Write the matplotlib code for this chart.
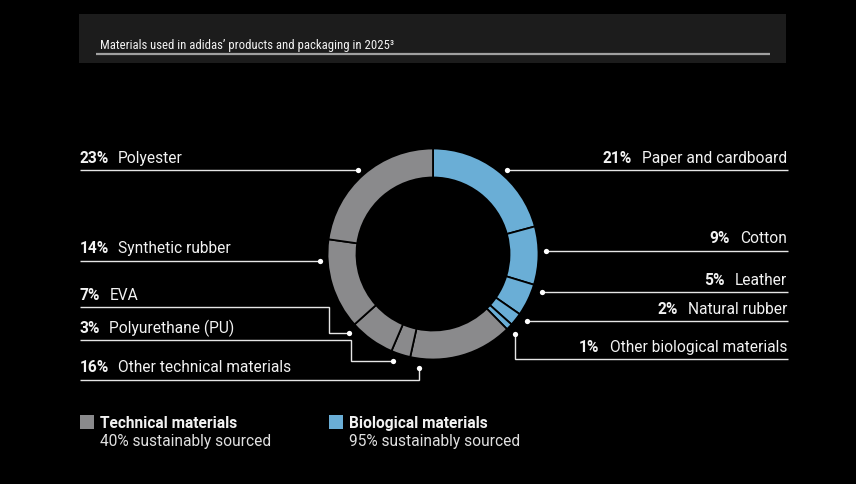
import matplotlib.pyplot as plt
from matplotlib.patches import Rectangle
from matplotlib import font_manager

# materials, clockwise from 12 o'clock
materials = ["Paper and cardboard", "Cotton", "Leather", "Natural rubber",
             "Other biological materials", "Other technical materials",
             "Polyurethane (PU)", "EVA", "Synthetic rubber", "Polyester"]
shares = [21, 9, 5, 2, 1, 16, 3, 7, 14, 23]
groups = ["bio", "bio", "bio", "bio", "bio", "tech", "tech", "tech", "tech", "tech"]

legend_names = ["Technical materials", "Biological materials"]
legend_notes = ["40% sustainably sourced", "95% sustainably sourced"]

title = "Materials used in adidas\u2019 products and packaging in 2025\u00b3"

colors = {"tech": "#8a8a8c", "bio": "#6aaed6"}
FG = "#f2f2f2"
FONT = ["Roboto", "DejaVu Sans"]
FS = 11.2

# condensed font for the title if one is installed
installed = {f.name for f in font_manager.fontManager.ttflist}
title_font, title_fs = "Roboto", 8.5
for cand in ["Liberation Sans Narrow", "Roboto Condensed", "Open Sans Condensed"]:
    if cand in installed:
        title_font, title_fs = cand, 9.2
        break

# label layout: (side, baseline y, leader path)
layout = {
    "Paper and cardboard": ("R", 163, [(788, 171), (507, 171)]),
    "Cotton": ("R", 243, [(788, 252), (546, 252)]),
    "Leather": ("R", 285, [(788, 293), (542, 293)]),
    "Natural rubber": ("R", 314, [(788, 322), (527, 322)]),
    "Other biological materials": ("R", 352, [(788, 360), (515, 360), (515, 335)]),
    "Polyester": ("L", 163, [(80, 171), (358, 171)]),
    "Synthetic rubber": ("L", 253, [(80, 262), (320, 262)]),
    "EVA": ("L", 300, [(80, 308), (329, 308), (329, 334), (349, 334)]),
    "Polyurethane (PU)": ("L", 333, [(80, 341), (351, 341), (351, 362), (393, 362)]),
    "Other technical materials": ("L", 372, [(80, 381), (419, 381), (419, 369)]),
}

fig = plt.figure(figsize=(8.56, 4.85), dpi=100, facecolor="black")
ax = fig.add_axes([0, 0, 1, 1])
ax.set_facecolor("black")

# header band
ax.add_patch(Rectangle((79, 15), 707, 49, facecolor="#1c1c1c", edgecolor="none", zorder=0))
ax.plot([96, 770], [55, 55], color="#a0a0a0", lw=1.6, solid_capstyle="butt")

# donut (y axis is inverted, so angles are mirrored)
ax.pie(shares, colors=[colors[g] for g in groups], startangle=-90, counterclock=True,
       center=(433, 255), radius=105.5, frame=True,
       wedgeprops=dict(width=29, edgecolor="black", linewidth=1.3))

ax.set_xlim(0, 856)
ax.set_ylim(485, 0)
ax.set_aspect("equal")
ax.axis("off")

fig.canvas.draw()
renderer = fig.canvas.get_renderer()


def width_px(t):
    return t.get_window_extent(renderer).width


ax.text(100, 49, title, color=FG, fontsize=title_fs,
        family=[title_font, "DejaVu Sans"], va="baseline", ha="left")

for name, share in zip(materials, shares):
    side, yb, path = layout[name]
    xs = [p[0] for p in path]
    ys = [p[1] for p in path]
    ax.plot(xs, ys, color="#e6e6e6", lw=1.0, solid_capstyle="butt", solid_joinstyle="miter")
    ax.plot(xs[-1], ys[-1], "o", color="white", ms=3.8, mec="none")
    pct = f"{share}%"
    if side == "L":
        t = ax.text(80, yb, pct, color=FG, fontsize=FS, fontweight="bold",
                    family=FONT, va="baseline", ha="left")
        w = width_px(t)
        ax.text(80 + w + 9, yb, name, color=FG, fontsize=FS,
                family=FONT, va="baseline", ha="left")
    else:
        t = ax.text(787, yb, name, color=FG, fontsize=FS,
                    family=FONT, va="baseline", ha="right")
        w = width_px(t)
        ax.text(787 - w - 10, yb, pct, color=FG, fontsize=FS, fontweight="bold",
                family=FONT, va="baseline", ha="right")

# legend
for i, (lname, note, g) in enumerate(zip(legend_names, legend_notes, ["tech", "bio"])):
    x0 = 80 + i * 249
    ax.add_patch(Rectangle((x0, 416), 14, 14, facecolor=colors[g], edgecolor="none"))
    ax.text(x0 + 20, 428, lname, color=FG, fontsize=FS, fontweight="bold",
            family=FONT, va="baseline", ha="left")
    ax.text(x0 + 20, 446, note, color="#e0e0e0", fontsize=FS,
            family=FONT, va="baseline", ha="left")

fig.savefig("out.png", dpi=100, facecolor="black")
